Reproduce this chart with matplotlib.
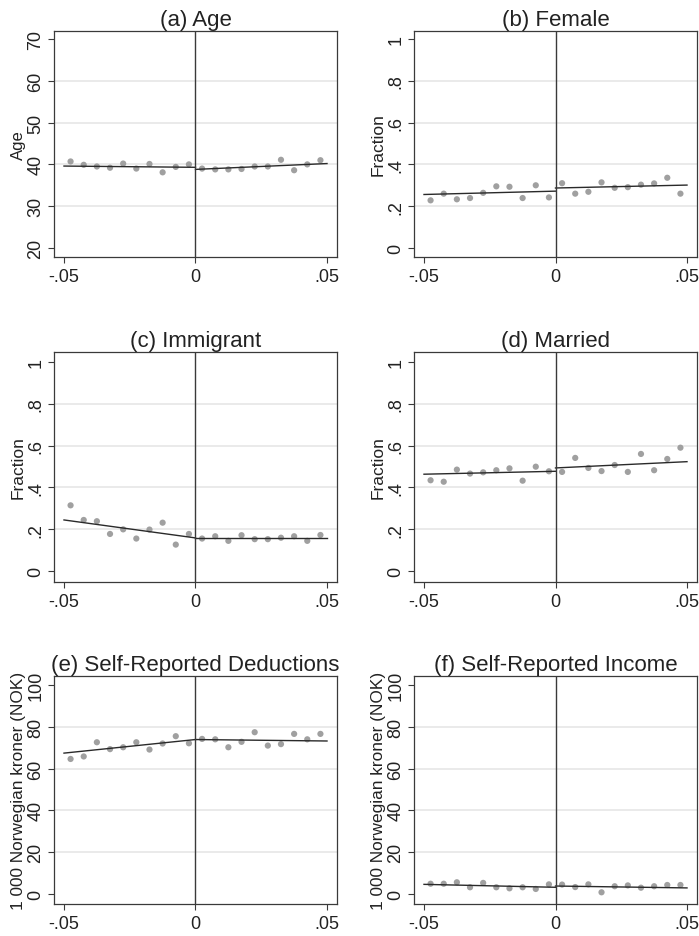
import numpy as np
import matplotlib
matplotlib.use("Agg")
import matplotlib.pyplot as plt

plt.rcParams['font.family'] = ['Liberation Sans', 'DejaVu Sans']

# bin centres of the running variable
bins = np.round(np.arange(-0.0475, 0.05, 0.005), 4)

age = [40.7, 39.9, 39.5, 39.2, 40.2, 39.0, 40.1, 38.1, 39.4, 40.0,
       39.0, 38.8, 38.8, 38.9, 39.5, 39.5, 41.1, 38.6, 40.0, 41.0]
female = [0.228, 0.260, 0.233, 0.239, 0.264, 0.295, 0.293, 0.239, 0.300, 0.242,
          0.310, 0.260, 0.269, 0.314, 0.288, 0.291, 0.303, 0.309, 0.336, 0.260]
immigrant = [0.314, 0.244, 0.238, 0.177, 0.199, 0.155, 0.198, 0.231, 0.126, 0.177,
             0.155, 0.166, 0.144, 0.171, 0.152, 0.152, 0.159, 0.166, 0.144, 0.172]
married = [0.434, 0.427, 0.485, 0.466, 0.472, 0.482, 0.491, 0.432, 0.499, 0.477,
           0.474, 0.541, 0.493, 0.478, 0.507, 0.474, 0.560, 0.482, 0.536, 0.590]
deductions = [64.6, 65.8, 72.6, 69.3, 70.2, 72.6, 69.1, 72.0, 75.5, 72.1,
              74.2, 74.0, 70.2, 72.8, 77.4, 71.0, 71.7, 76.6, 74.0, 76.6]
income = [4.9, 4.9, 5.6, 3.2, 5.3, 3.2, 2.7, 3.2, 2.4, 4.6,
          4.5, 3.3, 4.6, 0.8, 3.7, 4.1, 3.0, 3.7, 4.3, 4.3]

# fitted linear trends: (value at -.05, value at 0-, value at 0+, value at .05)
fit_age = [39.6, 39.3, 38.8, 40.2]
fit_female = [0.256, 0.272, 0.287, 0.301]
fit_immigrant = [0.244, 0.158, 0.158, 0.158]
fit_married = [0.463, 0.477, 0.493, 0.523]
fit_deductions = [67.4, 73.9, 73.9, 73.2]
fit_income = [4.6, 3.2, 3.8, 2.9]

frac_ticks = [0, 0.2, 0.4, 0.6, 0.8, 1.0]
frac_labels = ['0', '.2', '.4', '.6', '.8', '1']
nok_ticks = [0, 20, 40, 60, 80, 100]
nok_labels = [str(t) for t in nok_ticks]
age_ticks = [20, 30, 40, 50, 60, 70]
age_labels = [str(t) for t in age_ticks]

panels = [
    ('(a) Age', 'Age', 12, age, fit_age, age_ticks, age_labels, (17.85, 71.9)),
    ('(b) Female', 'Fraction', 12.5, female, fit_female, frac_ticks, frac_labels, (-0.043, 1.038)),
    ('(c) Immigrant', 'Fraction', 12.5, immigrant, fit_immigrant, frac_ticks, frac_labels, (-0.053, 1.048)),
    ('(d) Married', 'Fraction', 12.5, married, fit_married, frac_ticks, frac_labels, (-0.053, 1.048)),
    ('(e) Self-Reported Deductions', '1 000 Norwegian kroner (NOK)', 12.4, deductions, fit_deductions,
     nok_ticks, nok_labels, (-4.8, 104.3)),
    ('(f) Self-Reported Income', '1 000 Norwegian kroner (NOK)', 12.4, income, fit_income,
     nok_ticks, nok_labels, (-4.8, 104.3)),
]

W, H = 699, 937
fig = plt.figure(figsize=(W / 100, H / 100), dpi=100)

lefts = [54, 414]
tops = [32, 353, 677]
heights = [226, 230, 228]
width = 283

frame_col = '#3a3a3a'
text_col = '#222222'

for i, (title, ylabel, ylsize, vals, fit, ticks, labels, ylim) in enumerate(panels):
    r, c = divmod(i, 2)
    ax = fig.add_axes([lefts[c] / W, 1 - (tops[r] + heights[r]) / H,
                       width / W, heights[r] / H])
    ax.set_xlim(-0.0538, 0.0538)
    ax.set_ylim(*ylim)

    for t in ticks[1:-1]:
        ax.axhline(t, color='#e6e6e6', lw=1.2, zorder=0)

    ax.scatter(bins, vals, s=20, color='#a0a0a0', edgecolors='none', zorder=2)
    ax.plot([-0.05, 0], fit[:2], color='#2a2a2a', lw=1.0, zorder=3)
    ax.plot([0, 0.05], fit[2:], color='#2a2a2a', lw=1.0, zorder=3)
    ax.axvline(0, color='#3a3a3a', lw=1.0, zorder=3)

    ax.set_xticks([-0.05, 0, 0.05])
    ax.set_xticklabels(['-.05', '0', '.05'])
    ax.set_yticks(ticks)
    ax.set_yticklabels(labels, rotation=90, va='center')
    ax.tick_params(axis='both', direction='out', length=4, width=0.8,
                   color=frame_col, labelsize=13, labelcolor=text_col)
    ax.tick_params(axis='x', pad=4)
    ax.tick_params(axis='y', pad=3)

    for sp in ax.spines.values():
        sp.set_color(frame_col)
        sp.set_linewidth(0.9)

    ax.set_title(title, fontsize=16, color=text_col, pad=4)
    ax.set_ylabel(ylabel, fontsize=ylsize, color=text_col, labelpad=1)

fig.savefig('out.png', dpi=100)
